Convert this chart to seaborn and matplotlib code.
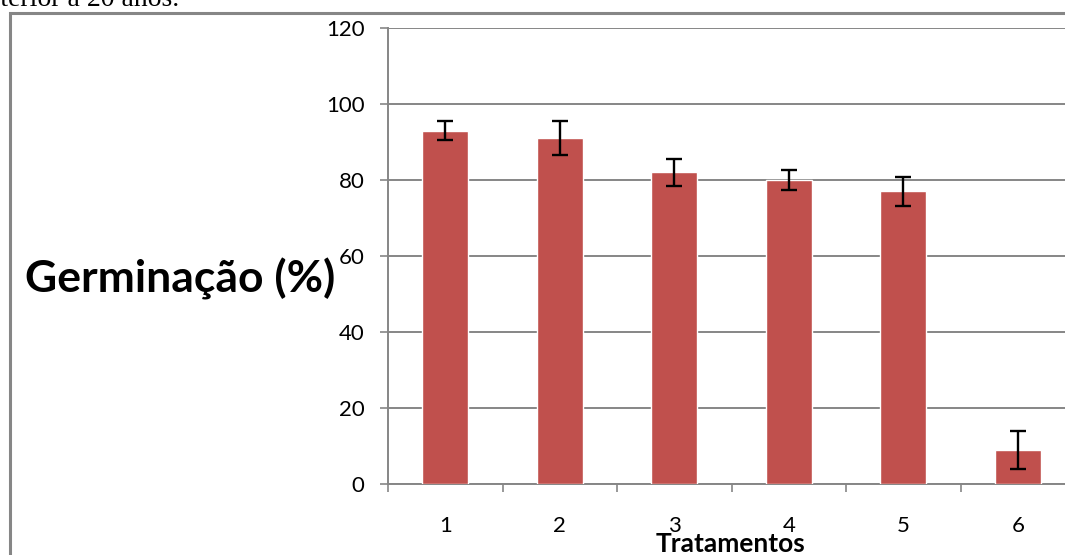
import matplotlib
matplotlib.use("Agg")
import matplotlib.pyplot as plt
import seaborn as sns
import pandas as pd
from matplotlib.patches import Rectangle
from matplotlib.ticker import FixedLocator, NullFormatter

categories = ["1", "2", "3", "4", "5", "6"]
germinacao = [93, 91, 82, 80, 77, 9]
erro = [2.5, 4.4, 3.5, 2.7, 3.8, 5.0]
yticks = [0, 20, 40, 60, 80, 100, 120]

sns.set_theme(style="white")
plt.rcParams["font.family"] = ["Lato", "DejaVu Sans"]

W, H = 1065, 555
fig = plt.figure(figsize=(W / 100, H / 100), dpi=100)
ax = fig.add_axes([388 / W, 1 - 484 / H, (1075 - 388) / W, (484 - 28) / H])

df = pd.DataFrame({"Tratamento": categories, "Germinacao": germinacao})
sns.barplot(data=df, x="Tratamento", y="Germinacao", color="#C0504D",
            saturation=1, width=0.4, errorbar=None, ax=ax, zorder=3)
xs = list(range(len(categories)))
ax.errorbar(xs, germinacao, yerr=erro, fmt="none", ecolor="black",
            elinewidth=1.7, capsize=5.5, capthick=1.7, zorder=4)

ax.set_ylim(0, 120)
ax.set_xlim(-0.5, len(categories) - 0.5)
ax.set_yticks(yticks)
ax.set_yticklabels([str(v) for v in yticks])
ax.yaxis.grid(True, color="#868686", linewidth=1.4, zorder=0)
ax.xaxis.grid(False)
ax.set_axisbelow(True)

# major ticks at boundaries, labels on minor ticks at centers
ax.xaxis.set_major_locator(FixedLocator([i - 0.5 for i in range(len(categories) + 1)]))
ax.xaxis.set_major_formatter(NullFormatter())
ax.xaxis.set_minor_locator(FixedLocator(xs))
ax.set_xticklabels(categories, minor=True)
ax.tick_params(axis="x", which="major", direction="out", length=6, width=1.2,
               color="#868686", bottom=True)
ax.tick_params(axis="x", which="minor", length=0, pad=23, labelsize=16,
               labelcolor="black")
ax.tick_params(axis="y", direction="out", length=6, width=1.2, color="#868686",
               left=True, labelsize=16, labelcolor="black", pad=11)

for s in ["top", "right"]:
    ax.spines[s].set_visible(False)
for s in ["left", "bottom"]:
    ax.spines[s].set_color("#868686")
    ax.spines[s].set_linewidth(1.4)

ax.set_xlabel("")
ax.set_ylabel("")

fig.text(25 / W, 1 - 293 / H, "Germinação (%)", fontsize=32, fontweight="bold",
         ha="left", va="baseline", color="black")
fig.text(730 / W, 1 - 552 / H, "Tratamentos", fontsize=19, fontweight="bold",
         ha="center", va="baseline", color="black")
fig.text(179 / W, 1 - 6 / H, "posterior a 20 anos.", fontsize=20,
         family=["Liberation Serif", "DejaVu Serif"], ha="right", va="baseline",
         color="black")

fig.add_artist(Rectangle((10 / W, -0.1), 2.0, (H - 13) / H + 0.1,
                         transform=fig.transFigure, fill=False,
                         edgecolor="#868686", linewidth=2.2))

fig.savefig("out.png", dpi=100)
